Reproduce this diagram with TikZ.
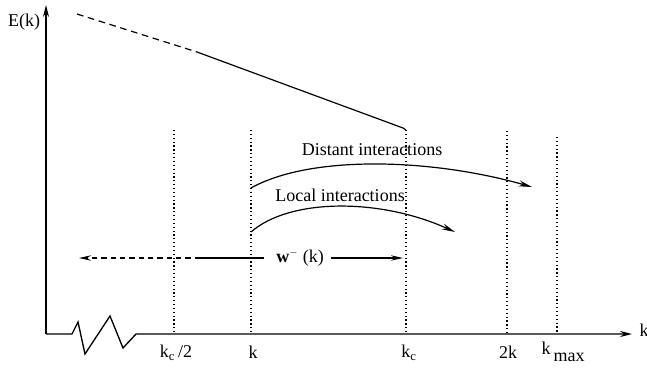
\documentclass[tikz,border=0pt]{standalone}
\usepackage{fontspec}
\setmainfont{Liberation Serif}
\usetikzlibrary{positioning,arrows.meta}

\begin{document}
\begin{tikzpicture}[
    x=0.75pt, y=-0.75pt,
    every node/.style={font=\fontsize{13.5}{15}\selectfont, inner sep=1pt},
    axis/.style={line width=1pt, -{Stealth[length=9pt,width=4.5pt]}},
    dotline/.style={dotted, line width=0.9pt},
    spec/.style={line width=0.9pt},
    arc/.style={line width=0.9pt, -{Stealth[length=10pt,width=4.5pt]}},
    arcw/.style={line width=0.8pt, -{Stealth[length=9pt,width=4pt]}}
  ]
    \useasboundingbox (0,0) rectangle (647,375);
    % axes
    \coordinate (O) at (46,334);
    \coordinate (Ytop) at (46,5);
    \coordinate (Xend) at (632,334);
    \draw[axis] (O) -- (Ytop);
    \draw[axis] (O) -- (72,334) -- (78,322) -- (85,354) -- (110,316) -- (123,348) -- (136,334) -- (Xend);
    \node (Ek) at (24,22) {E(k)};
    \node[anchor=west] (kx) at (638,330) {k};
    % wavenumbers
    \foreach \name/\xx/\yy in {kchalf/174/130, kk/251/130, kc/406/130, twok/507/131, kmax/557/137} {
      \coordinate (\name top) at (\xx,\yy);
      \coordinate (\name bot) at (\xx,334);
      \draw[dotline] (\name top) -- (\name bot);
    }
    \node (Lkchalf) at (176,353) {k\textsubscript{c}\,/2};
    \node (Lkk) at (253,352) {k};
    \node (Lkc) at (409,353) {k\textsubscript{c}};
    \node (Ltwok) at (508,352) {2k};
    \node[anchor=west] (Lkmax) at (540,352) {k\,\raisebox{-0.9ex}{max}};
    % spectrum
    \coordinate (S0) at (77,14);
    \coordinate (S1) at (197,52);
    \draw[spec, dashed, dash pattern=on 5pt off 3.5pt] (S0) -- (S1);
    \draw[spec] (S1) -- (403,128) -- (kctop);
    % interactions
    \coordinate (Dstart) at (251,188);
    \coordinate (Dend) at (532,187);
    \draw[arc] (Dstart) .. controls (310,155) and (430,158) .. (Dend);
    \node (Dlabel) at (372,150) {Distant interactions};
    \coordinate (Lstart) at (251,232);
    \coordinate (Lend) at (455,232);
    \draw[arc] (Lstart) .. controls (290,198) and (380,198) .. (Lend);
    \node (Llabel) at (340,195) {Local interactions};
    % window
    \node (W) at (300,258) {\textbf{w}$^{\scriptscriptstyle -}$ (k)};
    \coordinate (Wleft) at (79,258);
    \coordinate (Wmid) at (200,258);
    \coordinate (Wright) at (403,258);
    \draw[arcw, dashed, dash pattern=on 4pt off 3pt] (Wmid) -- (Wleft);
    \draw[line width=0.8pt] (Wmid) -- ([xshift=-8pt]W.west);
    \draw[arcw] ([xshift=4pt]W.east) -- (Wright);
  \end{tikzpicture}
\end{document}
